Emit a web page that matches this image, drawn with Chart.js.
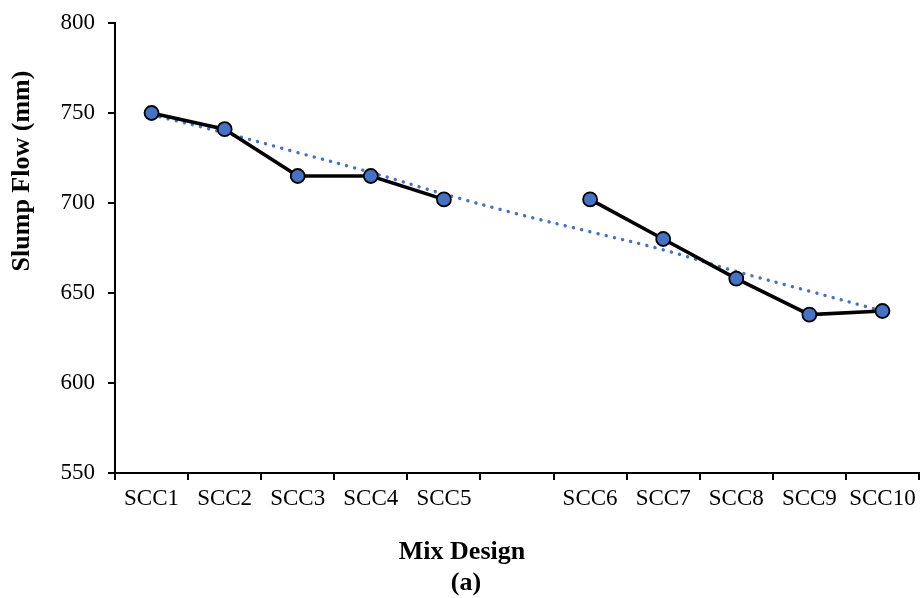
<!DOCTYPE html>
<html>
<head>
<meta charset="utf-8">
<script src="https://cdn.jsdelivr.net/npm/chart.js@4.4.1/dist/chart.umd.min.js"></script>
<style>
  html, body { margin: 0; padding: 0; background: #fff; }
  #wrap { width: 922px; height: 598px; }
</style>
</head>
<body>
<div id="wrap"><canvas id="slumpChart" width="922" height="598"></canvas></div>
<script>
// categories (empty slot between SCC5 and SCC6 as in the original)
const mixLabels = ['SCC1', 'SCC2', 'SCC3', 'SCC4', 'SCC5', '', 'SCC6', 'SCC7', 'SCC8', 'SCC9', 'SCC10'];
// slump flow values (mm), null = gap
const slumpFlow = [750, 741, 715, 715, 702, null, 702, 680, 658, 638, 640];
// dotted trendline
const trendFlow = [749, 739, 728, 717, 705, 694, 684, 674, 662, 651, 640];
const yTicks = [550, 600, 650, 700, 750, 800];

const serif = "'Liberation Serif', 'Times New Roman', serif";

// axis titles are placed like in the original figure (centred on the page)
const titlesPlugin = {
    id: 'titles',
    afterDraw(chart) {
        const ctx = chart.ctx;
        ctx.save();
        ctx.fillStyle = '#000';
        ctx.textAlign = 'center';
        ctx.textBaseline = 'middle';
        ctx.font = 'bold 26px ' + serif;
        ctx.fillText('Mix Design', 462, 552);
        ctx.fillText('(a)', 466, 583);
        ctx.translate(22, 171);
        ctx.rotate(-Math.PI / 2);
        ctx.fillText('Slump Flow (mm)', 0, 0);
        ctx.restore();
    }
};

const ctx = document.getElementById('slumpChart');
new Chart(ctx, {
    type: 'line',
    data: {
        labels: mixLabels,
        datasets: [
            {
                label: 'Slump Flow',
                data: slumpFlow,
                borderColor: '#000',
                borderWidth: 3.6,
                pointRadius: 7,
                pointHoverRadius: 7,
                pointBackgroundColor: '#4472C4',
                pointBorderColor: '#000',
                pointBorderWidth: 1.8,
                spanGaps: false,
                tension: 0,
                order: 1
            },
            {
                label: 'Trend',
                data: trendFlow,
                borderColor: '#4472C4',
                borderWidth: 3.4,
                borderDash: [0.1, 8.3],
                borderCapStyle: 'round',
                pointRadius: 0,
                tension: 0.4,
                order: 2
            }
        ]
    },
    options: {
        responsive: false,
        animation: false,
        layout: { autoPadding: false, padding: { left: 0, right: 3, top: 23, bottom: 0 } },
        plugins: {
            legend: { display: false },
            tooltip: { enabled: false }
        },
        scales: {
            x: {
                type: 'category',
                offset: true,
                border: { color: '#000', width: 2 },
                grid: {
                    offset: true,
                    drawOnChartArea: false,
                    color: '#000',
                    lineWidth: 2,
                    tickLength: 7
                },
                ticks: {
                    color: '#000',
                    font: { family: serif, size: 23 },
                    padding: 5,
                    maxRotation: 0,
                    autoSkip: false
                },
                afterFit(scale) {
                    scale.height = 125;
                    scale.paddingLeft = 0;
                    scale.paddingRight = 0;
                }
            },
            y: {
                min: 550,
                max: 800,
                afterBuildTicks(scale) { scale.ticks = yTicks.map(v => ({ value: v })); },
                border: { color: '#000', width: 2 },
                grid: {
                    drawOnChartArea: false,
                    color: '#000',
                    lineWidth: 2,
                    tickLength: 7
                },
                ticks: {
                    color: '#000',
                    font: { family: serif, size: 23 },
                    padding: 13
                },
                afterFit(scale) {
                    scale.width = 115;
                    scale.paddingTop = 0;
                    scale.paddingBottom = 0;
                }
            }
        }
    },
    plugins: [titlesPlugin]
});
</script>
</body>
</html>
